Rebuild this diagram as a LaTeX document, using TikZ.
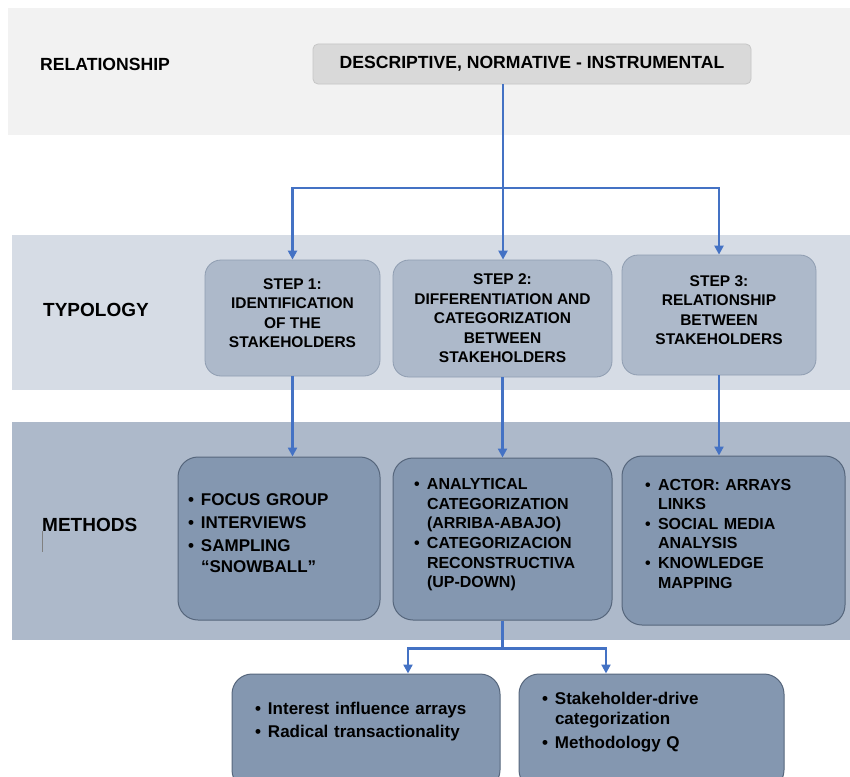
\documentclass[tikz,border=0pt]{standalone}
\usepackage{fontspec}
\setmainfont{Liberation Sans}
\usetikzlibrary{positioning,arrows.meta}

\definecolor{relband}{HTML}{F2F2F2}
\definecolor{typband}{HTML}{D6DCE5}
\definecolor{methband}{HTML}{ADB9CA}
\definecolor{topfill}{HTML}{D9D9D9}
\definecolor{topedge}{HTML}{C6C6C6}
\definecolor{stepfill}{HTML}{ADB9CA}
\definecolor{stepedge}{HTML}{8F9DB1}
\definecolor{methfill}{HTML}{8497B0}
\definecolor{methedge}{HTML}{56667C}
\definecolor{linkblue}{HTML}{4472C4}

\newcommand{\bul}{\makebox[13pt][l]{\textbullet}}
\newcommand{\ind}{\hspace*{13pt}}
% empty last line, lifts the text inside its box
\newcommand{\padbelow}[1]{\\[#1]\mbox{}}

\begin{document}
\begin{tikzpicture}[
        x=1pt, y=-1pt,
        lbl/.style={anchor=west, inner sep=0pt, font=\fontsize{19}{22}\selectfont\bfseries},
        topbox/.style={rectangle, rounded corners=5pt, draw=topedge, fill=topfill, line width=0.8pt, minimum width=438pt, minimum height=40pt, font=\fontsize{17.6}{20}\selectfont\bfseries},
        stepbox/.style={rectangle, rounded corners=16pt, draw=stepedge, fill=stepfill, line width=0.8pt, align=center, font=\fontsize{15.5}{19.5}\selectfont\bfseries},
        methbox/.style={rectangle, rounded corners=20pt, draw=methedge, fill=methfill, line width=1pt, align=left, font=\fontsize{16}{19.6}\selectfont\bfseries},
        link/.style={draw=linkblue, line width=2.4pt},
        arrow/.style={link, -{Triangle[length=9pt,width=9pt]}}
    ]
    \useasboundingbox (0,0) rectangle (850,776);
    \clip (0,0) rectangle (850,776);
    % Bands
    \fill[relband] (8,8) rectangle (850,135);
    \fill[typband] (12,235) rectangle (850,390);
    \fill[methband] (12,422) rectangle (850,640);
    % Row labels
    \node[lbl, font=\fontsize{17.6}{20}\selectfont\bfseries] (rel) at (40,64) {RELATIONSHIP};
    \node[lbl] (typ) at (43,310) {TYPOLOGY};
    \node[lbl] (meth) at (42,525) {METHODS};
    \draw[gray, line width=0.8pt] (42,531) -- (42,552);
    % Nodes
    \node[topbox] (top) at (532,64) {DESCRIPTIVE, NORMATIVE - INSTRUMENTAL};
    \node[stepbox, minimum width=175pt, minimum height=116pt] (s1) at (292.5,318) {STEP 1:\\IDENTIFICATION\\OF THE\\STAKEHOLDERS\padbelow{-9.5pt}};
    \node[stepbox, minimum width=219pt, minimum height=117pt] (s2) at (502.5,318.5) {STEP 2:\\DIFFERENTIATION AND\\CATEGORIZATION\\BETWEEN\\STAKEHOLDERS};
    \node[stepbox, minimum width=194pt, minimum height=120pt] (s3) at (719,315) {STEP 3:\\RELATIONSHIP\\BETWEEN\\STAKEHOLDERS\padbelow{-9.5pt}};
    \node[methbox, text width=182pt, inner xsep=10pt, minimum height=163pt, font=\fontsize{17}{21}\selectfont\bfseries] (m1) at (279,538.5)
        {\bul FOCUS GROUP\\[2pt]\bul INTERVIEWS\\[2pt]\bul SAMPLING\\\ind “SNOWBALL”\padbelow{-11pt}};
    \node[methbox, text width=177pt, inner xsep=21pt, minimum height=162pt] (m2) at (502.5,539)
        {\bul ANALYTICAL\\\ind CATEGORIZATION\\\ind (ARRIBA-ABAJO)\\\bul CATEGORIZACION\\\ind RECONSTRUCTIVA\\\ind (UP-DOWN)\padbelow{-8pt}};
    \node[methbox, text width=177pt, inner xsep=23pt, minimum height=169pt] (m3) at (733.5,540.5)
        {\bul ACTOR: ARRAYS\\\ind LINKS\\\bul SOCIAL MEDIA\\\ind ANALYSIS\\\bul KNOWLEDGE\\\ind MAPPING\padbelow{-5.5pt}};
    \node[methbox, text width=222pt, inner xsep=23pt, minimum height=116pt, font=\fontsize{17}{21}\selectfont\bfseries] (b1) at (366,732)
        {\bul Interest influence arrays\\[2pt]\bul Radical transactionality\padbelow{3pt}};
    \node[methbox, text width=219pt, inner xsep=23pt, minimum height=116pt, font=\fontsize{17}{20}\selectfont\bfseries, right=18pt of b1] (b2)
        {\bul Stakeholder-drive\\\ind categorization\\[4pt]\bul Methodology Q\padbelow{4pt}};
    % Arrows
    \coordinate (fork1) at (503,188);
    \coordinate (fork2) at ([yshift=-28pt]m2.south);
    \draw[link] (top.south -| fork1) -- (fork1);
    \draw[arrow] (fork1) -| (s1.north);
    \draw[arrow] (fork1) -- (fork1 |- s2.north);
    \draw[arrow] (fork1) -| (s3.north);
    \draw[arrow] (s1.south) -- (s1.south |- m1.north);
    \draw[arrow] (s2.south) -- (s2.south |- m2.north);
    \draw[arrow] (s3.south) -- (s3.south |- m3.north);
    \draw[link] (m2.south) -- (fork2);
    \draw[arrow] (fork2) -| ([xshift=42pt]b1.north);
    \draw[arrow] (fork2) -| ([xshift=-45.5pt]b2.north);
\end{tikzpicture}
\end{document}
